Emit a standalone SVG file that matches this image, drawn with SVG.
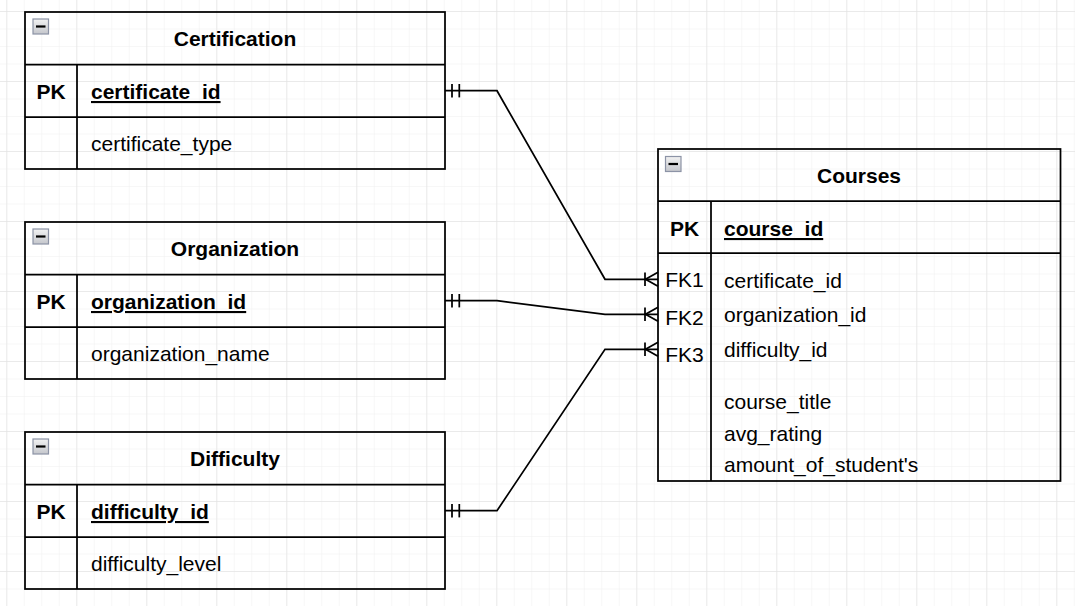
<svg xmlns="http://www.w3.org/2000/svg" width="1075" height="606" viewBox="0 0 1075 606">
  <style>
    .tbl { fill: none; stroke: #000; stroke-width: 1.75; }
    .ln { stroke: #000; stroke-width: 1.75; fill: none; }
    .title { font-family: "Liberation Sans", Arial, sans-serif; font-size: 21px; font-weight: bold; text-anchor: middle; fill: #000; }
    .pk { font-family: "Liberation Sans", Arial, sans-serif; font-size: 21px; font-weight: bold; text-anchor: middle; fill: #000; }
    .key { font-family: "Liberation Sans", Arial, sans-serif; font-size: 21px; font-weight: bold; text-decoration: underline; fill: #000; }
    .fld { font-family: "Liberation Sans", Arial, sans-serif; font-size: 21px; fill: #000; }
    .fk { font-family: "Liberation Sans", Arial, sans-serif; font-size: 21px; text-anchor: middle; fill: #000; }
    .conn { stroke: #000; stroke-width: 1.75; fill: none; }
    .icon { fill: url(#icoGrad); stroke: #8c93a6; stroke-width: 1.2; }
    .minus { stroke: #000; stroke-width: 2.2; }
  </style>
  <defs>
    <pattern id="minor" x="6.3" y="11" width="17.5" height="17.5" patternUnits="userSpaceOnUse">
      <path d="M0 0 H17.5 M0 0 V17.5" stroke="#f0f0f0" stroke-width="1" fill="none"/>
    </pattern>
    <pattern id="major" x="6.3" y="11" width="70" height="70" patternUnits="userSpaceOnUse">
      <path d="M0 0 H70 M0 0 V70" stroke="#dedede" stroke-width="1" fill="none"/>
    </pattern>
    <linearGradient id="icoGrad" x1="0" y1="0" x2="0" y2="1">
      <stop offset="0" stop-color="#f2f2f2"/>
      <stop offset="1" stop-color="#c4c6cc"/>
    </linearGradient>
    <g id="minusIcon">
      <rect class="icon" x="0" y="0" width="15.5" height="15"/>
      <line class="minus" x1="3" y1="7.5" x2="12.5" y2="7.5"/>
    </g>
  </defs>

  <rect width="1075" height="606" fill="#ffffff"/>
  <rect width="1075" height="606" fill="url(#minor)"/>
  <rect width="1075" height="606" fill="url(#major)"/>

  <g id="certification">
    <rect class="tbl" x="25" y="12" width="420" height="157"/>
    <line class="ln" x1="25" y1="64.5" x2="445" y2="64.5"/>
    <line class="ln" x1="25" y1="117" x2="445" y2="117"/>
    <line class="ln" x1="77" y1="64.5" x2="77" y2="169"/>
    <use href="#minusIcon" x="33" y="19"/>
    <text class="title" x="235" y="45.5">Certification</text>
    <text class="pk" x="51" y="99">PK</text>
    <text class="key" x="91" y="99">certificate_id</text>
    <text class="fld" x="91" y="151">certificate_type</text>
  </g>

  <g id="organization">
    <rect class="tbl" x="25" y="222" width="420" height="157"/>
    <line class="ln" x1="25" y1="274.5" x2="445" y2="274.5"/>
    <line class="ln" x1="25" y1="327" x2="445" y2="327"/>
    <line class="ln" x1="77" y1="274.5" x2="77" y2="379"/>
    <use href="#minusIcon" x="33" y="229"/>
    <text class="title" x="235" y="255.5">Organization</text>
    <text class="pk" x="51" y="309">PK</text>
    <text class="key" x="91" y="309">organization_id</text>
    <text class="fld" x="91" y="361">organization_name</text>
  </g>

  <g id="difficulty">
    <rect class="tbl" x="25" y="432" width="420" height="157"/>
    <line class="ln" x1="25" y1="484.5" x2="445" y2="484.5"/>
    <line class="ln" x1="25" y1="537" x2="445" y2="537"/>
    <line class="ln" x1="77" y1="484.5" x2="77" y2="589"/>
    <use href="#minusIcon" x="33" y="439"/>
    <text class="title" x="235" y="465.5">Difficulty</text>
    <text class="pk" x="51" y="519">PK</text>
    <text class="key" x="91" y="519">difficulty_id</text>
    <text class="fld" x="91" y="571">difficulty_level</text>
  </g>

  <g id="courses">
    <rect class="tbl" x="658" y="149" width="402.5" height="332"/>
    <line class="ln" x1="658" y1="201" x2="1060.5" y2="201"/>
    <line class="ln" x1="658" y1="253" x2="1060.5" y2="253"/>
    <line class="ln" x1="711" y1="201" x2="711" y2="481"/>
    <use href="#minusIcon" x="665.5" y="156.5"/>
    <text class="title" x="859" y="183">Courses</text>
    <text class="pk" x="684.5" y="236">PK</text>
    <text class="key" x="724" y="236">course_id</text>
    <text class="fk" x="684.5" y="287.3">FK1</text>
    <text class="fk" x="684.5" y="325">FK2</text>
    <text class="fk" x="684.5" y="361.7">FK3</text>
    <text class="fld" x="724" y="287.5">certificate_id</text>
    <text class="fld" x="724" y="322.3">organization_id</text>
    <text class="fld" x="724" y="357">difficulty_id</text>
    <text class="fld" x="724" y="409.3">course_title</text>
    <text class="fld" x="724" y="440.5">avg_rating</text>
    <text class="fld" x="724" y="471.5">amount_of_student's</text>
  </g>

  <g id="connectors">
    <!-- Certification to Courses FK1 -->
    <polyline class="conn" points="445,90.7 497,90.7 605,279.3 658,279.3"/>
    <line class="conn" x1="452" y1="84" x2="452" y2="97.4"/>
    <line class="conn" x1="459.3" y1="84" x2="459.3" y2="97.4"/>
    <line class="conn" x1="645" y1="272.6" x2="645" y2="286"/>
    <polyline class="conn" points="658,272.3 645.5,279.3 658,286.3"/>
    <!-- Organization to Courses FK2 -->
    <polyline class="conn" points="445,300.7 497,300.7 605,314.3 658,314.3"/>
    <line class="conn" x1="452" y1="294" x2="452" y2="307.4"/>
    <line class="conn" x1="459.3" y1="294" x2="459.3" y2="307.4"/>
    <line class="conn" x1="645" y1="307.6" x2="645" y2="321"/>
    <polyline class="conn" points="658,307.3 645.5,314.3 658,321.3"/>
    <!-- Difficulty to Courses FK3 -->
    <polyline class="conn" points="445,510.7 497,510.7 605,349.3 658,349.3"/>
    <line class="conn" x1="452" y1="504" x2="452" y2="517.4"/>
    <line class="conn" x1="459.3" y1="504" x2="459.3" y2="517.4"/>
    <line class="conn" x1="645" y1="342.6" x2="645" y2="356"/>
    <polyline class="conn" points="658,342.3 645.5,349.3 658,356.3"/>
  </g>
</svg>
